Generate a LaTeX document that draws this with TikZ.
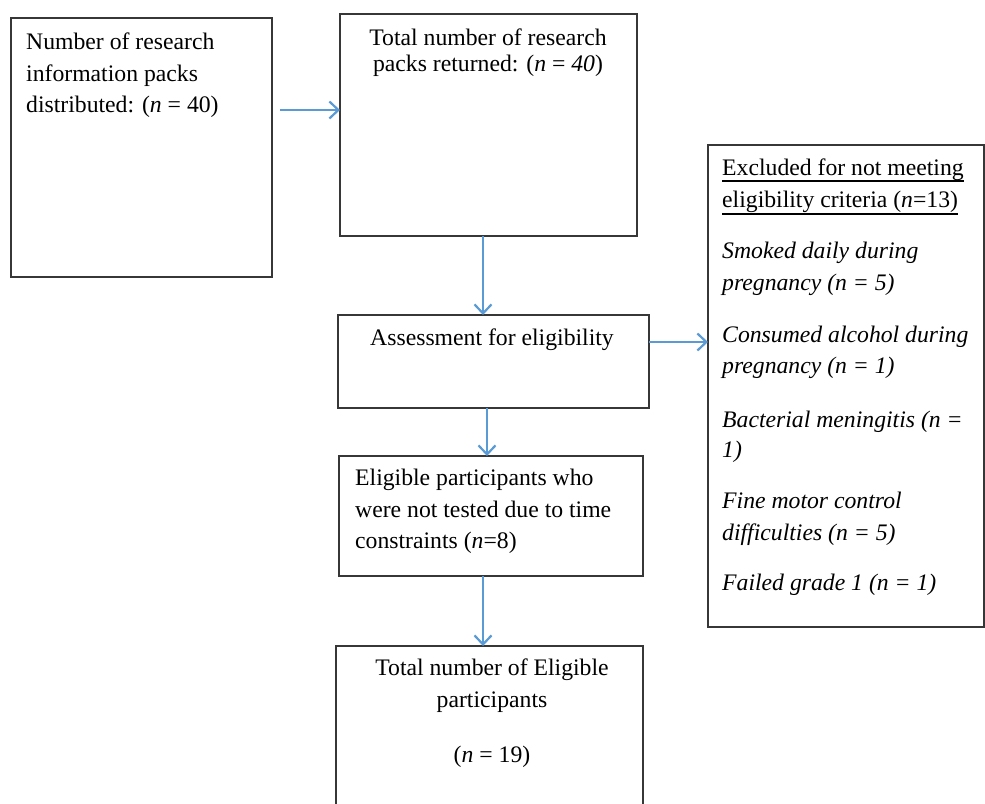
\documentclass[tikz,border=0pt]{standalone}
\usepackage{fontspec}
\setmainfont{Liberation Serif}
\usetikzlibrary{arrows.meta,calc}
\definecolor{arrowblue}{RGB}{91,155,213}
\definecolor{boxline}{RGB}{55,55,55}
\begin{document}
\begin{tikzpicture}[x=1pt,y=-1pt,
 box/.style={draw=boxline,line width=2pt,inner sep=0pt,outer sep=0pt,rectangle,anchor=north west},
 txt/.style={inner sep=0pt,font=\fontsize{23.7}{28}\selectfont},
 lt/.style={txt,anchor=base west},
 ct/.style={txt,anchor=base},
 it/.style={txt,anchor=base west,font=\fontsize{23.7}{28}\selectfont\itshape},
 arr/.style={draw=arrowblue,line width=1.8pt,-{Straight Barb[length=9pt,width=17pt,line width=2.2pt]}}]
\useasboundingbox (0,0) rectangle (985,803);
% boxes
\node[box,minimum width=261pt,minimum height=259pt] (b1) at (11,18) {};
\node[box,minimum width=297pt,minimum height=222pt] (b2) at (340,14) {};
\node[box,minimum width=276pt,minimum height=482pt] (ex) at (708,145) {};
\node[box,minimum width=311pt,minimum height=93pt] (as) at (338,315) {};
\node[box,minimum width=304pt,minimum height=120pt] (el) at (339,456) {};
\node[box,minimum width=307pt,minimum height=220pt] (tot) at (336,646) {};
% texts
\node[lt] (t1a) at (26,49) {Number of research};
\node[lt] (t1b) at (26,81) {information packs};
\node[lt] (t1c) at (26,112) {distributed: (\textit{n} = 40)};
\node[ct] (t2a) at (488,45) {Total number of research};
\node[ct] (t2b) at (488,71) {packs returned: (\textit{n} = \textit{40})};
\node[lt] (e1) at (722,175) {Excluded for not meeting};
\node[lt] (e2) at (722,207) {eligibility criteria (\textit{n}=13)};
\node[it] (e3) at (722,258) {Smoked daily during};
\node[it] (e4) at (722,290) {pregnancy (n = 5)};
\node[it] (e5) at (722,342) {Consumed alcohol during};
\node[it] (e6) at (722,373) {pregnancy (n = 1)};
\node[it] (e7) at (722,427) {Bacterial meningitis (n =};
\node[it] (e8) at (722,457) {1)};
\node[it] (e9) at (722,508) {Fine motor control};
\node[it] (e10) at (722,540) {difficulties (n = 5)};
\node[it] (e11) at (722,590) {Failed grade 1 (n = 1)};
\draw[line width=1.4pt] ($(e1.base west)+(0,6)$) -- ($(e1.base east)+(0,6)$);
\draw[line width=1.4pt] ($(e2.base west)+(0,7)$) -- ($(e2.base east)+(0,7)$);
\node[ct] (ta) at (492,345) {Assessment for eligibility};
\node[lt] (l1) at (355,485) {Eligible participants who};
\node[lt] (l2) at (355,517) {were not tested due to time};
\node[lt] (l3) at (355,548) {constraints (\textit{n}=8)};
\node[ct] (s1) at (492,675) {Total number of Eligible};
\node[ct] (s2) at (492,707) {participants};
\node[ct] (s3) at (492,762) {(\textit{n} = 19)};
% arrows
\coordinate (a1s) at (280,110);
\coordinate (x483) at (483,0);
\coordinate (x487) at (487,0);
\coordinate (y342) at (0,342);
\draw[arr] (a1s) -- (a1s -| b2.west);
\draw[arr] (b2.south -| x483) -- (as.north -| x483);
\draw[arr] (as.east |- y342) -- (ex.west |- y342);
\draw[arr] (as.south -| x487) -- (el.north -| x487);
\draw[arr] (el.south -| x483) -- (tot.north -| x483);
\end{tikzpicture}
\end{document}
